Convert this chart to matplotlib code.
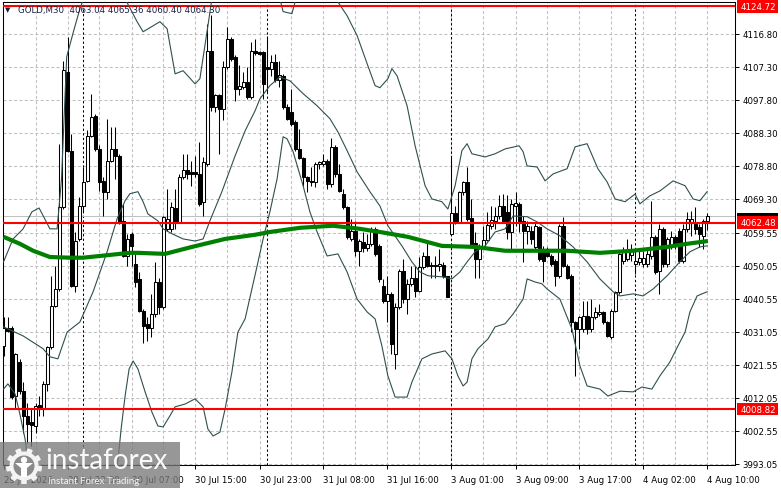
import numpy as np
import matplotlib.pyplot as plt
import matplotlib.transforms as mtransforms
from matplotlib.patches import Rectangle, Polygon, Circle

# GOLD M30 candles, one entry per bar (29 Jul 14:00 ... 4 Aug 10:00)
opens = [4027.1, 4032.3, 4032.3, 4012.7, 4022.3, 4014.1, 4006.9, 4005.0, 4004.0, 4010.0,
         4009.3, 4016.0, 4026.6, 4038.6, 4043.4, 4066.9, 4105.8, 4083.2, 4044.4, 4057.8,
         4067.4, 4074.6, 4087.5, 4093.3, 4083.7, 4074.6, 4071.4, 4080.3, 4083.7, 4081.8,
         4063.1, 4053.0, 4059.2, 4050.6, 4046.3, 4037.1, 4033.3, 4032.3, 4036.2, 4045.3,
         4038.1, 4060.7, 4060.7, 4066.6, 4062.8, 4075.5, 4077.5, 4077.1, 4077.1, 4076.5,
         4068.3, 4079.4, 4112.0, 4095.7, 4099.1, 4095.2, 4107.2, 4115.4, 4110.1, 4101.0,
         4101.5, 4102.9, 4098.6, 4112.0, 4111.5, 4111.5, 4107.2, 4106.7, 4108.7, 4103.4,
         4104.8, 4095.7, 4094.3, 4091.4, 4083.7, 4081.0, 4075.5, 4074.6, 4074.3, 4079.4,
         4079.4, 4080.3, 4073.6, 4084.2, 4076.5, 4070.7, 4066.9, 4057.8, 4060.2, 4054.4,
         4057.0, 4055.1, 4056.3, 4060.7, 4055.9, 4044.4, 4040.0, 4041.9, 4024.7, 4038.1,
         4048.7, 4040.5, 4044.8, 4046.7, 4042.9, 4049.6, 4053.0, 4050.3, 4050.3, 4050.1,
         4050.4, 4047.0, 4059.2, 4065.3, 4062.6, 4071.2, 4074.3, 4063.7, 4056.5, 4052.0,
         4055.9, 4057.5, 4061.6, 4063.1, 4064.5, 4067.4, 4065.5, 4059.7, 4067.4, 4067.9,
         4063.1, 4060.2, 4060.2, 4055.4, 4061.1, 4054.9, 4054.9, 4053.0, 4051.5, 4047.2,
         4061.6, 4050.1, 4047.2, 4033.8, 4031.9, 4031.9, 4035.7, 4031.9, 4035.2, 4036.2,
         4036.7, 4033.8, 4029.5, 4037.1, 4042.4, 4051.5, 4052.0, 4053.2, 4050.6, 4051.2,
         4050.6, 4050.6, 4052.9, 4058.4, 4048.6, 4060.7, 4050.6, 4055.5, 4058.4, 4060.1,
         4051.5, 4060.7, 4062.7, 4062.1, 4061.3, 4058.7, 4063.04]
highs = [4035.2, 4035.2, 4032.8, 4025.1, 4023.2, 4016.5, 4010.7, 4008.8, 4010.7, 4012.7,
         4017.0, 4027.1, 4047.2, 4050.1, 4085.1, 4109.1, 4115.9, 4088.0, 4059.7, 4069.8,
         4078.4, 4089.0, 4099.5, 4093.8, 4084.7, 4075.5, 4092.3, 4089.9, 4089.9, 4082.3,
         4067.9, 4059.2, 4059.7, 4053.5, 4048.2, 4037.6, 4035.2, 4041.9, 4051.1, 4046.7,
         4064.5, 4072.2, 4068.3, 4072.2, 4076.5, 4082.3, 4082.3, 4080.3, 4081.8, 4085.6,
         4081.3, 4119.7, 4122.1, 4099.5, 4099.5, 4109.1, 4118.7, 4115.9, 4110.6, 4107.7,
         4105.8, 4107.2, 4114.4, 4115.4, 4112.0, 4112.0, 4116.3, 4110.6, 4111.1, 4109.1,
         4105.3, 4096.7, 4101.0, 4091.9, 4089.5, 4081.3, 4076.0, 4078.4, 4079.9, 4080.3,
         4082.3, 4080.8, 4086.8, 4084.7, 4079.4, 4072.2, 4067.4, 4063.5, 4063.1, 4057.8,
         4059.7, 4059.2, 4061.1, 4061.1, 4056.3, 4046.3, 4047.2, 4042.4, 4039.5, 4049.1,
         4052.0, 4046.3, 4050.1, 4050.1, 4052.5, 4053.9, 4056.8, 4051.1, 4053.0, 4054.9,
         4051.1, 4047.2, 4081.8, 4067.4, 4071.7, 4074.6, 4078.4, 4069.3, 4059.7, 4056.3,
         4061.6, 4065.5, 4067.4, 4066.9, 4070.3, 4070.7, 4070.3, 4069.3, 4071.2, 4068.3,
         4064.5, 4063.1, 4061.6, 4062.6, 4061.6, 4055.9, 4055.4, 4053.5, 4052.0, 4062.1,
         4064.0, 4050.6, 4047.7, 4034.3, 4035.7, 4040.0, 4040.0, 4040.5, 4038.1, 4039.1,
         4037.1, 4034.3, 4037.6, 4042.9, 4053.9, 4055.4, 4057.8, 4056.4, 4054.9, 4054.4,
         4054.4, 4054.9, 4068.8, 4059.0, 4062.1, 4061.3, 4058.4, 4060.1, 4059.0, 4061.0,
         4062.1, 4065.6, 4065.9, 4067.0, 4062.1, 4063.6, 4065.36]
lows = [4024.2, 4030.9, 4011.7, 4008.8, 4013.1, 4002.1, 3999.2, 3998.3, 4002.1, 4006.9,
        4006.9, 4014.1, 4026.1, 4038.1, 4042.9, 4066.4, 4082.7, 4043.9, 4042.4, 4057.3,
        4065.5, 4074.1, 4087.1, 4083.2, 4071.7, 4064.5, 4069.3, 4079.9, 4075.0, 4062.1,
        4052.5, 4050.1, 4050.1, 4043.9, 4036.7, 4028.0, 4028.5, 4029.5, 4035.2, 4036.2,
        4037.6, 4060.2, 4059.7, 4060.7, 4062.6, 4075.0, 4075.0, 4073.1, 4075.5, 4067.4,
        4064.5, 4078.9, 4094.7, 4094.3, 4082.3, 4091.9, 4106.7, 4109.1, 4097.6, 4099.1,
        4101.0, 4098.1, 4098.1, 4110.6, 4110.6, 4098.1, 4100.0, 4104.8, 4102.9, 4101.5,
        4095.2, 4091.9, 4090.4, 4083.2, 4080.8, 4073.1, 4071.2, 4073.1, 4072.7, 4077.9,
        4078.9, 4072.2, 4072.7, 4075.5, 4071.2, 4066.4, 4057.8, 4057.3, 4053.0, 4050.1,
        4053.9, 4054.4, 4055.9, 4053.0, 4045.3, 4039.5, 4033.8, 4024.7, 4020.3, 4037.6,
        4039.5, 4036.2, 4044.4, 4041.0, 4042.4, 4049.1, 4049.6, 4046.7, 4046.7, 4048.7,
        4046.7, 4041.0, 4058.8, 4062.1, 4062.4, 4070.3, 4063.1, 4055.9, 4046.7, 4046.7,
        4055.4, 4057.3, 4060.7, 4060.7, 4063.5, 4062.6, 4057.8, 4054.9, 4061.6, 4059.7,
        4051.1, 4056.3, 4056.3, 4054.9, 4051.5, 4045.3, 4052.5, 4050.1, 4044.4, 4046.7,
        4049.6, 4046.3, 4030.9, 4018.4, 4026.1, 4030.9, 4030.4, 4030.9, 4034.7, 4035.7,
        4033.3, 4029.5, 4029.0, 4036.7, 4041.9, 4050.6, 4051.5, 4051.5, 4047.7, 4050.3,
        4049.8, 4049.8, 4052.1, 4047.7, 4042.0, 4049.8, 4049.8, 4054.9, 4054.9, 4050.9,
        4050.9, 4059.8, 4058.7, 4059.3, 4055.5, 4054.9, 4060.40]
closes = [4032.3, 4031.4, 4012.2, 4024.7, 4014.1, 4006.9, 4004.5, 4004.2, 4009.8, 4009.3,
          4016.0, 4026.6, 4038.6, 4043.4, 4066.9, 4106.3, 4083.2, 4044.4, 4057.3, 4067.4,
          4074.1, 4087.5, 4092.8, 4083.7, 4074.1, 4071.4, 4080.3, 4083.7, 4081.8, 4062.6,
          4053.0, 4057.8, 4055.9, 4045.3, 4037.1, 4032.8, 4032.3, 4036.2, 4045.3, 4038.1,
          4064.0, 4063.5, 4066.9, 4062.8, 4075.5, 4077.5, 4076.5, 4076.5, 4076.5, 4067.9,
          4079.9, 4112.0, 4095.7, 4099.1, 4095.2, 4107.2, 4115.4, 4109.6, 4101.0, 4101.8,
          4102.9, 4098.6, 4112.0, 4111.3, 4111.1, 4102.4, 4106.7, 4108.7, 4103.4, 4105.0,
          4095.7, 4092.3, 4090.9, 4083.7, 4081.0, 4075.5, 4074.6, 4074.3, 4079.4, 4079.9,
          4080.3, 4073.6, 4084.2, 4076.5, 4071.7, 4066.9, 4058.3, 4060.2, 4054.4, 4057.3,
          4055.1, 4056.3, 4060.7, 4053.5, 4046.3, 4040.0, 4041.9, 4027.5, 4038.1, 4048.7,
          4040.5, 4044.8, 4046.7, 4042.9, 4049.6, 4053.0, 4050.1, 4050.1, 4049.9, 4050.6,
          4047.2, 4041.0, 4065.3, 4062.6, 4071.2, 4074.1, 4063.5, 4056.3, 4052.0, 4055.9,
          4057.5, 4061.8, 4063.3, 4064.5, 4067.4, 4063.1, 4059.7, 4067.9, 4068.2, 4063.1,
          4060.2, 4061.6, 4057.8, 4061.6, 4052.0, 4051.5, 4053.0, 4050.6, 4047.2, 4061.6,
          4050.1, 4046.7, 4033.8, 4031.9, 4035.2, 4035.7, 4031.9, 4035.2, 4036.7, 4036.7,
          4033.8, 4029.9, 4037.1, 4042.4, 4053.5, 4053.9, 4054.3, 4054.7, 4051.5, 4052.3,
          4052.3, 4053.5, 4058.4, 4048.3, 4060.7, 4050.6, 4057.8, 4058.4, 4056.4, 4051.5,
          4060.7, 4063.6, 4063.6, 4060.7, 4059.3, 4063.0, 4064.30]

# indicator lines: (bar position, price)
ma_x = [0, 4.1, 7.4, 11.6, 16.6, 19.9, 24.1, 31.6, 33.6, 40.4, 47.1, 55.4, 62.9, 66.6,
        74.1, 82.4, 89.1, 94.1, 101.1, 109.6, 117.9, 125.4, 132.4, 140.9, 149.1, 157.4,
        165.9, 170.9, 176.1]
ma_y = [4058.4, 4056.4, 4054.4, 4052.6, 4052.4, 4052.4, 4052.9, 4053.8, 4053.8, 4053.5,
        4055.5, 4057.8, 4059.0, 4059.8, 4061.0, 4061.6, 4060.7, 4059.8, 4058.4, 4055.8,
        4055.5, 4054.4, 4054.4, 4054.4, 4053.8, 4054.4, 4055.5, 4056.4, 4057.2]

bb_up_x = [0, 2.4, 4.9, 7.1, 8.9, 11.6, 13.4, 14.5, 15.8, 17.5, 19.1, 21, 25, 29, 30.4,
           33.4, 34.9, 39.1, 40.9, 42.9, 44.9, 47.9, 49.1, 51.1, 52.1, 55, 62, 68, 69.1,
           69.9, 72.1, 72.9, 75, 80, 83.6, 85.9, 88.4, 91.1, 92.9, 94.1, 96.1, 97.1, 98.4,
           100.9, 102.9, 105.4, 107.1, 109.6, 111.1, 112.9, 114.6, 115.9, 117.1, 120.4,
           122.9, 125.4, 128.9, 129.9, 130.9, 133.4, 135.4, 137.4, 140.9, 142.9, 145.9,
           148.6, 150.9, 152.9, 155.4, 157.9, 159.1, 161.6, 164.1, 167.4, 170.4, 172.4,
           174.1, 175.9]
bb_up_y = [4051.2, 4057.8, 4060.7, 4065.6, 4066.7, 4060.7, 4060.7, 4075.0, 4110.2, 4117.5,
           4124.0, 4130.0, 4135.0, 4130.0, 4126.9, 4120.3, 4117.4, 4120.3, 4118.3, 4105.3,
           4106.2, 4102.4, 4103.9, 4119.1, 4126.9, 4135.0, 4140.0, 4135.0, 4126.9, 4123.2,
           4122.6, 4126.0, 4132.0, 4133.0, 4126.0, 4122.0, 4116.3, 4107.6, 4101.9, 4101.3,
           4103.9, 4106.8, 4104.7, 4096.1, 4084.6, 4073.1, 4069.3, 4068.5, 4066.4, 4073.1,
           4083.2, 4085.2, 4082.3, 4081.4, 4082.3, 4083.7, 4084.6, 4082.9, 4078.8, 4078.5,
           4074.5, 4076.5, 4078.0, 4084.3, 4085.2, 4078.0, 4074.2, 4069.3, 4068.5, 4070.7,
           4067.9, 4070.2, 4071.6, 4074.5, 4073.1, 4069.3, 4068.8, 4071.4]

bb_mid_x = [0, 4.9, 9.9, 11.6, 13.6, 15.9, 19.1, 22.4, 25.9, 28.4, 30.4, 31.6, 33.6, 34.9,
            36.1, 38.6, 39.9, 42.1, 44.9, 47.9, 49.9, 51.6, 54.6, 57.9, 60.4, 62.9, 64.1,
            66.6, 69.1, 71.6, 74.9, 78.4, 81.6, 83.6, 85.9, 88.4, 91.6, 94.1, 96.1, 99.6,
            102.1, 104.1, 106.1, 109.6, 112.1, 114.1, 115.9, 117.9, 120.4, 122.9, 125.4,
            127.4, 130.9, 133.4, 135.9, 139.1, 142.4, 145.9, 149.1, 152.4, 154.1, 157.4,
            159.9, 162.4, 165.9, 169.1, 171.6, 174.1, 175.9]
bb_mid_y = [4032.5, 4029.9, 4026.2, 4023.9, 4023.3, 4031.0, 4033.9, 4042.6, 4054.1, 4063.6,
            4068.8, 4070.8, 4071.4, 4068.5, 4065.0, 4063.0, 4060.7, 4059.3, 4057.8, 4057.2,
            4057.8, 4063.0, 4071.4, 4081.7, 4088.9, 4094.7, 4098.1, 4101.9, 4104.4, 4103.3,
            4099.6, 4096.1, 4092.4, 4088.6, 4083.2, 4077.1, 4071.4, 4067.3, 4061.6, 4055.8,
            4051.2, 4048.3, 4047.2, 4046.9, 4046.3, 4048.3, 4051.2, 4054.1, 4055.8, 4059.8,
            4060.7, 4064.4, 4064.2, 4062.7, 4060.7, 4058.7, 4055.5, 4051.2, 4046.3, 4042.6,
            4041.4, 4042.0, 4041.4, 4043.4, 4047.2, 4051.2, 4054.1, 4055.5, 4055.8]

bb_lo_x = [0, 1.1, 2.9, 4.1, 5.4, 6.1, 6.6, 10, 18, 25, 28.4, 29.4, 30.4, 31.4, 32.4, 33.6,
           35.4, 37.1, 38.6, 39.9, 41.6, 42.9, 45.4, 47.9, 49.9, 51.1, 52.4, 54.1, 55.4,
           57.1, 58.6, 60.4, 63.4, 64.9, 66.6, 68.4, 69.9, 70.9, 72.4, 74.9, 76.6, 78.4,
           80.9, 83.6, 85.9, 88.4, 90.9, 92.9, 94.6, 96.1, 97.9, 100.9, 102.1, 104.6, 107.1,
           110.4, 112.1, 113.6, 114.9, 115.9, 117.1, 118.6, 121.1, 122.9, 125.4, 127.4,
           129.9, 130.9, 132.9, 134.6, 135.9, 139.1, 142.1, 144.1, 145.9, 149.1, 151.1,
           154.1, 157.4, 159.6, 162.1, 164.1, 166.6, 168.6, 170.4, 171.6, 173.4, 175.9]
bb_lo_y = [4014.6, 4016.1, 4013.2, 4007.4, 4000.2, 3994.5, 3991.6, 3975.0, 3965.0, 3978.0,
           3991.6, 4003.1, 4012.6, 4020.4, 4022.7, 4020.4, 4013.8, 4008.0, 4004.0, 4003.7,
           4006.9, 4009.5, 4010.3, 4011.8, 4009.5, 4003.1, 4001.1, 4002.2, 4008.9, 4019.5,
           4031.0, 4034.8, 4050.0, 4057.8, 4065.6, 4075.1, 4087.2, 4086.6, 4082.9, 4073.1,
           4065.6, 4059.8, 4052.9, 4053.5, 4048.3, 4040.5, 4036.8, 4034.8, 4027.0, 4018.4,
           4012.3, 4012.3, 4016.6, 4023.3, 4024.7, 4025.6, 4023.3, 4018.4, 4015.5, 4016.6,
           4023.3, 4026.2, 4029.0, 4032.5, 4033.4, 4036.2, 4040.5, 4046.3, 4045.4, 4044.9,
           4043.4, 4040.5, 4031.9, 4021.3, 4015.5, 4014.6, 4012.6, 4014.0, 4013.8, 4015.2,
           4014.6, 4018.4, 4022.4, 4027.0, 4031.0, 4036.8, 4041.4, 4042.6]

levels = [4124.72, 4062.48, 4008.82]
bid = 4064.30
price_ticks = [4116.80, 4107.30, 4097.80, 4088.30, 4078.80, 4069.30, 4059.55, 4050.05,
               4040.55, 4031.05, 4021.55, 4012.05, 4002.55, 3993.05]
time_pos = [0, 16, 32, 48, 64, 80, 96, 112, 128, 144, 160, 176]
time_labels = ['29 Jul 2026', '29 Jul 22:00', '30 Jul 07:00', '30 Jul 15:00',
               '30 Jul 23:00', '31 Jul 08:00', '31 Jul 16:00', '3 Aug 01:00',
               '3 Aug 09:00', '3 Aug 17:00', '4 Aug 02:00', '4 Aug 10:00']
day_starts = [20, 66, 112, 158]

plt.rcParams['font.family'] = ['DejaVu Sans']
fig = plt.figure(figsize=(7.81, 4.89), dpi=100)
fig.patch.set_facecolor('white')
ax = fig.add_axes([2.7 / 781, 23 / 489, 732.8 / 781, 463.3 / 489])
ax.set_xlim(-0.2, 183)
ax.set_ylim(3992.76, 4126.05)

dash = (0, (2.9, 2.2))
for p in price_ticks:
    ax.axhline(p, color='#c0c0c0', lw=0.75, ls=dash, zorder=0)
for k in range(1, 23):
    ax.axvline(8 * k, color='#c0c0c0', lw=0.75, ls=dash, zorder=0)
for d in day_starts:
    ax.axvline(d, color='black', lw=0.75, ls=(0, (2.2, 2.2)), zorder=1)

ax.axhline(bid, color='#c0c0c0', lw=0.75, zorder=1)

# candles
o = np.array(opens)
c = np.array(closes)
idx = np.arange(len(o))
bull = c >= o
ax.vlines(idx, lows, highs, color='black', lw=0.75, zorder=3)
lo = np.minimum(o, c)
h = np.maximum(np.abs(c - o), 0.08)
ax.bar(idx[bull], h[bull], bottom=lo[bull], width=0.55, facecolor='white',
       edgecolor='black', linewidth=0.75, zorder=4)
ax.bar(idx[~bull], h[~bull], bottom=lo[~bull], width=0.55, facecolor='black',
       edgecolor='black', linewidth=0.75, zorder=4)

# bollinger bands and moving average
band_col = '#2f4f4f'
ax.plot(bb_up_x, bb_up_y, color=band_col, lw=0.8, zorder=5)
ax.plot(bb_mid_x, bb_mid_y, color=band_col, lw=0.8, zorder=5)
ax.plot(bb_lo_x, bb_lo_y, color=band_col, lw=0.8, zorder=5)
ax.plot(ma_x, ma_y, color='#008000', lw=3.0, zorder=6, solid_capstyle='butt')

for lv in levels:
    ax.axhline(lv, color='#ff0000', lw=1.5, zorder=7)

# axes styling
for s in ax.spines.values():
    s.set_color('black')
    s.set_linewidth(0.75)
ax.yaxis.tick_right()
ax.set_yticks(price_ticks)
ax.set_yticklabels(['%.2f' % p for p in price_ticks])
ax.set_xticks(time_pos)
ax.set_xticklabels(time_labels)
for lbl in ax.get_xticklabels():
    lbl.set_ha('left')
ax.tick_params(axis='both', direction='out', length=3, width=0.7, labelsize=6.2,
               colors='black', pad=2)
ax.tick_params(axis='x', pad=4)

# price boxes on the right scale
blend = mtransforms.blended_transform_factory(ax.transAxes, ax.transData)
box_w = 41 / 732.8
box_h = 12.5 * 0.28788
x0 = 1.0025
ax.add_patch(Rectangle((x0, bid - box_h / 2 - 0.8), box_w, box_h, transform=blend,
                       facecolor='black', edgecolor='none', clip_on=False, zorder=10))
ax.text(x0 + 0.004, bid - 0.8, '%.2f' % bid, transform=blend, ha='left', va='center',
        fontsize=6.2, color='white', clip_on=False, zorder=11)
for lv in levels:
    ax.add_patch(Rectangle((x0, lv - box_h / 2), box_w, box_h, transform=blend,
                           facecolor='#ff0000', edgecolor='none', clip_on=False, zorder=12))
    ax.text(x0 + 0.004, lv, '%.2f' % lv, transform=blend, ha='left', va='center',
            fontsize=6.2, color='white', clip_on=False, zorder=13)

# overlay in pixel coordinates: title and watermark
ov = fig.add_axes([0, 0, 1, 1])
ov.set_xlim(0, 781)
ov.set_ylim(489, 0)
ov.axis('off')
ov.patch.set_alpha(0)
ov.text(5, 10, '\u25bc', fontsize=5, color='#1c1c3c', va='center', ha='left')
ov.text(18, 10.5, 'GOLD,M30  4063.04 4065.36 4060.40 4064.30', fontsize=6.2,
        color='#1c1c3c', va='center', ha='left')

ov.add_patch(Rectangle((0, 443), 180, 46, facecolor='#7a7a7a', alpha=0.78,
                       edgecolor='none'))
# gear logo
t = np.linspace(0, 2 * np.pi, 161)
r = np.where(np.floor(t / (2 * np.pi / 18)) % 2 == 0, 18.0, 14.5)
gx, gy = 24, 467
ov.add_patch(Polygon(np.column_stack([gx + r * np.cos(t), gy + r * np.sin(t)]),
                     closed=True, facecolor='white', edgecolor='none', alpha=0.9))
ov.add_patch(Circle((gx, gy), 10.5, facecolor='#8a8a8a', edgecolor='none'))
ov.add_patch(Circle((gx, gy - 6), 3.2, facecolor='white', edgecolor='none'))
ov.add_patch(Polygon([[gx - 9, gy - 3], [gx + 9, gy - 3], [gx + 3, gy + 2], [gx + 3, gy + 11],
                      [gx - 3, gy + 11], [gx - 3, gy + 2]], closed=True,
                     facecolor='white', edgecolor='none'))
ov.text(45, 461, 'instaforex', fontsize=20, family=['Lato', 'DejaVu Sans'],
        color='white', va='center', ha='left', alpha=0.95)
ov.text(48, 481.5, 'Instant Forex Trading', fontsize=7, family=['Lato', 'DejaVu Sans'],
        color='white', va='center', ha='left', alpha=0.9)

fig.savefig('out.png', dpi=100, facecolor='white')
